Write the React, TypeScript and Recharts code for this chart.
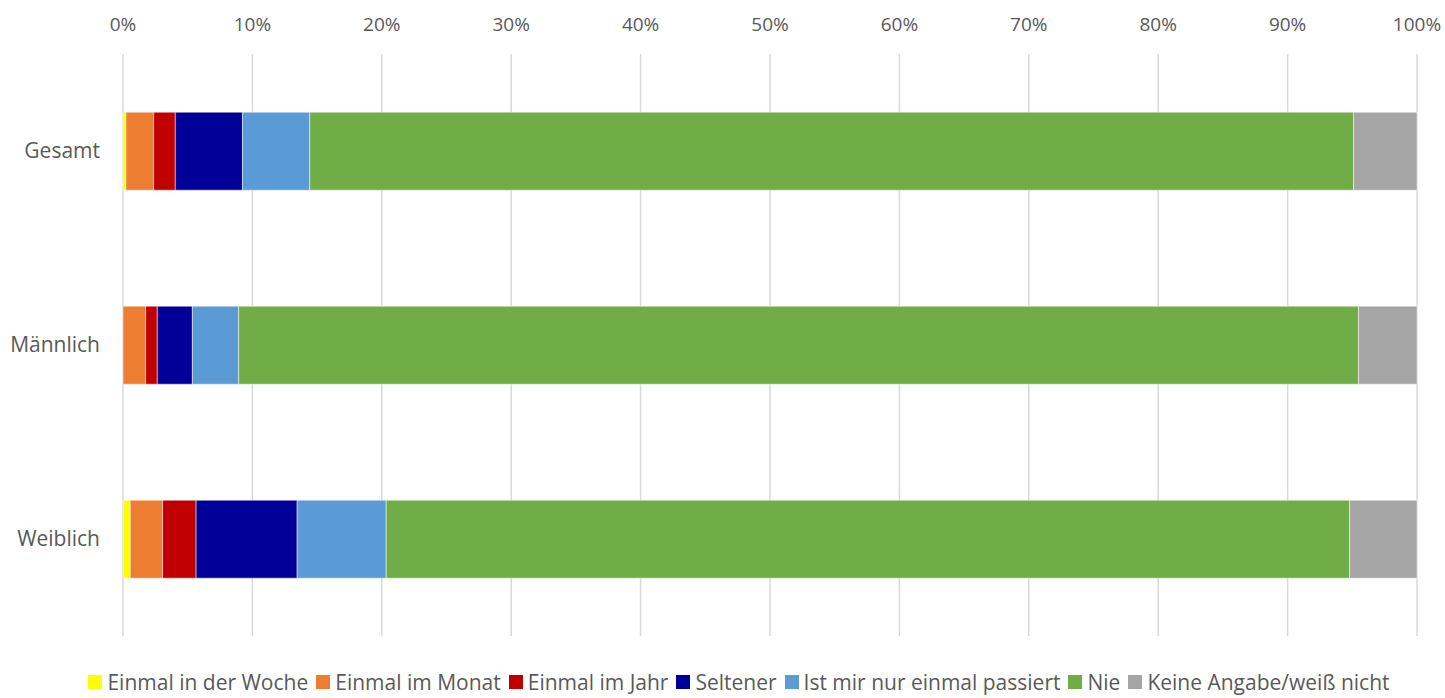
import React from "react";
import { BarChart, Bar, XAxis, YAxis, CartesianGrid } from "recharts";

const categories = ["Gesamt", "Männlich", "Weiblich"];
const seriesNames = [
  "Einmal in der Woche",
  "Einmal im Monat",
  "Einmal im Jahr",
  "Seltener",
  "Ist mir nur einmal passiert",
  "Nie",
  "Keine Angabe/weiß nicht",
];
const seriesColors = ["#FFFF00", "#ED7D31", "#C00000", "#000099", "#5B9BD5", "#70AD47", "#A5A5A5"];
const einmalWoche = [0.23, 0, 0.56];
const einmalMonat = [2.14, 1.75, 2.5];
const einmalJahr = [1.67, 0.9, 2.59];
const seltener = [5.19, 2.71, 7.81];
const einmalPassiert = [5.2, 3.58, 6.88];
const nie = [80.67, 86.54, 74.45];
const keineAngabe = [4.9, 4.52, 5.21];
const xTicks = [0, 10, 20, 30, 40, 50, 60, 70, 80, 90, 100];

const seriesValues = [einmalWoche, einmalMonat, einmalJahr, seltener, einmalPassiert, nie, keineAngabe];
const keys = ["s0", "s1", "s2", "s3", "s4", "s5", "s6"];

const data = categories.map((c, i) => {
  const row: Record<string, string | number> = { name: c };
  seriesValues.forEach((vals, s) => {
    row[keys[s]] = vals[i];
  });
  return row;
});

const FONT = "'Open Sans', sans-serif";
const TEXT = "#595959";

export default function App() {
  return (
    <div style={{ position: "absolute", left: 0, top: 0, width: 1445, height: 698, background: "#fff", fontFamily: FONT }}>
      <BarChart
        width={1445}
        height={698}
        data={data}
        layout="vertical"
        margin={{ top: 0, right: 28, bottom: 62, left: 0 }}
        barCategoryGap="30%"
      >
        <CartesianGrid horizontal={false} stroke="#D9D9D9" strokeWidth={1.5} />
        <XAxis
          type="number"
          orientation="top"
          domain={[0, 100]}
          ticks={xTicks}
          tickFormatter={(v: number) => `${v}%`}
          axisLine={false}
          tickLine={false}
          tickSize={0}
          tickMargin={23}
          height={54}
          interval={0}
          tick={{ fill: TEXT, fontSize: 19, fontFamily: FONT }}
        />
        <YAxis
          type="category"
          dataKey="name"
          width={123}
          axisLine={false}
          tickLine={false}
          tickSize={0}
          tickMargin={23}
          tick={{ fill: TEXT, fontSize: 21, fontFamily: FONT }}
        />
        {keys.map((k, s) => (
          <Bar
            key={k}
            dataKey={k}
            stackId="a"
            fill={seriesColors[s]}
            stroke="#ffffff"
            strokeWidth={0.5}
            isAnimationActive={false}
          />
        ))}
      </BarChart>
      <div
        style={{
          position: "absolute",
          left: 0,
          width: 1486,
          top: 669,
          display: "flex",
          justifyContent: "center",
          alignItems: "center",
          fontSize: 21,
          lineHeight: "26px",
          color: TEXT,
          whiteSpace: "nowrap",
        }}
      >
        {seriesNames.map((n, s) => (
          <span key={n} style={{ display: "inline-flex", alignItems: "center", marginRight: 8 }}>
            <span style={{ display: "inline-block", width: 14, height: 14, background: seriesColors[s], marginRight: 5 }} />
            {n}
          </span>
        ))}
      </div>
    </div>
  );
}
